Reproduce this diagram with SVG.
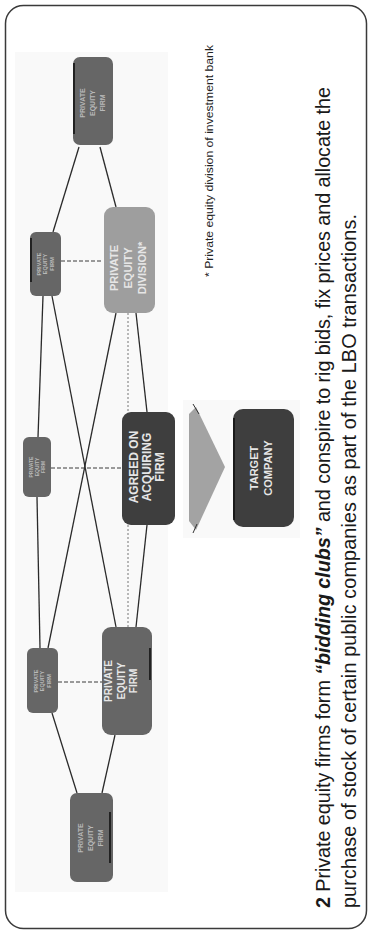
<svg xmlns="http://www.w3.org/2000/svg" width="369" height="932" viewBox="0 0 369 932">
<style>
.frame{fill:#fff;stroke:#3a3a3a;stroke-width:1.5}
.panel{fill:#f9f9f9}
.ln{stroke:#2a2a2a;stroke-width:1.3;fill:none}
.dash{stroke:#3a3a3a;stroke-width:1;stroke-dasharray:4 2;fill:none}
.dot{stroke:#777;stroke-width:1;stroke-dasharray:2 2;fill:none}
.n1{fill:#666}
.n2{fill:#9e9e9e}
.n3{fill:#3e3e3e}
.edge{stroke:#111;stroke-width:1.6}
.t{font-family:"Liberation Sans",Arial,sans-serif;font-weight:bold;text-anchor:middle;fill:#e6e6e6}
.tf{font-family:"Liberation Sans",Arial,sans-serif;font-weight:bold;text-anchor:middle;fill:#b9b9b9}
.cap{font-family:"Liberation Sans",Arial,sans-serif;font-size:19.8px;fill:#1a1a1a}
.note{font-family:"Liberation Sans",Arial,sans-serif;font-size:10.5px;fill:#222}
</style>
<rect class="frame" x="5.5" y="5.5" width="361" height="923" rx="18"/>
<rect class="panel" x="15" y="52" width="153" height="840"/>
<rect class="panel" x="183" y="400" width="117" height="138"/>

<g id="connectors">
<line class="ln" x1="79" y1="147" x2="53" y2="232"/>
<line class="ln" x1="100" y1="147" x2="116" y2="207"/>
<line class="dash" x1="61" y1="261" x2="103" y2="261"/>
<line class="ln" x1="43" y1="296" x2="38" y2="437"/>
<line class="ln" x1="52" y1="296" x2="116" y2="627"/>
<line class="ln" x1="116" y1="313" x2="48" y2="648"/>
<line class="dot" x1="128" y1="313" x2="128" y2="627"/>
<line class="ln" x1="136" y1="313" x2="147" y2="412"/>
<line class="ln" x1="147" y1="525" x2="136" y2="627"/>
<line class="dash" x1="51" y1="468" x2="122" y2="468"/>
<line class="ln" x1="37" y1="497" x2="40" y2="648"/>
<line class="dash" x1="58" y1="682" x2="102" y2="682"/>
<line class="ln" x1="52" y1="713" x2="77" y2="793"/>
<line class="ln" x1="115" y1="735" x2="102" y2="793"/>
</g>

<g id="pe-firm-top">
<rect class="n1" x="73" y="57" width="40" height="88" rx="7"/>
<line class="edge" x1="74" y1="63" x2="74" y2="134"/>
<text class="tf" font-size="7" transform="translate(92,103) rotate(-90)"><tspan x="0" y="-7.5">PRIVATE</tspan><tspan x="0" y="2.5">EQUITY</tspan><tspan x="0" y="12.5">FIRM</tspan></text>
</g>

<g id="pe-small-top">
<rect class="n1" x="30" y="232" width="31" height="64" rx="6"/>
<line class="edge" x1="31" y1="238" x2="31" y2="282"/>
<text class="tf" font-size="5.5" transform="translate(45,264) rotate(-90)"><tspan x="0" y="-4.5">PRIVATE</tspan><tspan x="0" y="2">EQUITY</tspan><tspan x="0" y="8.5">FIRM</tspan></text>
</g>

<g id="pe-division">
<rect class="n2" x="104" y="207" width="51" height="106" rx="9"/>
<text class="t" font-size="11" fill="#fafafa" transform="translate(128,268) rotate(-90)"><tspan x="0" y="-10">PRIVATE</tspan><tspan x="0" y="4">EQUITY</tspan><tspan x="0" y="18">DIVISION*</tspan></text>
</g>

<g id="pe-small-mid">
<rect class="n1" x="23" y="437" width="28" height="60" rx="6"/>
<text class="tf" font-size="5" transform="translate(37,467) rotate(-90)"><tspan x="0" y="-4">PRIVATE</tspan><tspan x="0" y="2">EQUITY</tspan><tspan x="0" y="8">FIRM</tspan></text>
</g>

<g id="agreed-firm">
<rect class="n3" x="122" y="412" width="53" height="113" rx="9"/>
<text class="t" font-size="12" transform="translate(146,467) rotate(-90)"><tspan x="0" y="-8">AGREED ON</tspan><tspan x="0" y="5">ACQUIRING</tspan><tspan x="0" y="18">FIRM</tspan></text>
</g>

<g id="arrow">
<polygon points="189,414 196,407 225,467 196,530 189,521" fill="#a3a3a3"/>
<line x1="193" y1="404" x2="199" y2="414" stroke="#333" stroke-width="1"/>
<line x1="193" y1="533" x2="197" y2="524" stroke="#333" stroke-width="1"/>
</g>

<g id="target-company">
<rect class="n3" x="233" y="409" width="61" height="118" rx="10"/>
<line class="edge" x1="234" y1="418" x2="234" y2="520"/>
<text class="t" font-size="11" transform="translate(261,468) rotate(-90)"><tspan x="0" y="-3">TARGET</tspan><tspan x="0" y="10.5">COMPANY</tspan></text>
</g>

<g id="pe-small-bottom">
<rect class="n1" x="27" y="648" width="31" height="65" rx="6"/>
<text class="tf" font-size="5.5" transform="translate(42,681) rotate(-90)"><tspan x="0" y="-4.5">PRIVATE</tspan><tspan x="0" y="2">EQUITY</tspan><tspan x="0" y="8.5">FIRM</tspan></text>
</g>

<g id="pe-firm">
<rect class="n1" x="102" y="627" width="50" height="108" rx="9" fill="#5f5f5f"/>
<line class="edge" x1="150" y1="648" x2="150" y2="680"/>
<text class="t" font-size="10" transform="translate(121,681) rotate(-90)"><tspan x="0" y="-9">PRIVATE</tspan><tspan x="0" y="3.5">EQUITY</tspan><tspan x="0" y="16">FIRM</tspan></text>
</g>

<g id="pe-firm-bottom">
<rect class="n1" x="70" y="793" width="43" height="89" rx="7"/>
<line class="edge" x1="110" y1="812" x2="110" y2="863"/>
<text class="tf" font-size="7" transform="translate(90,838) rotate(-90)"><tspan x="0" y="-7.5">PRIVATE</tspan><tspan x="0" y="2.5">EQUITY</tspan><tspan x="0" y="12.5">FIRM</tspan></text>
</g>

<text class="note" transform="translate(213,277) rotate(-90)" textLength="232" lengthAdjust="spacingAndGlyphs">* Private equity division of investment bank</text>

<text class="cap" transform="translate(330,908) rotate(-90)" textLength="821" lengthAdjust="spacing"><tspan font-weight="bold">2</tspan> Private equity firms form <tspan font-weight="bold" font-style="italic">“bidding clubs”</tspan> and conspire to rig bids, fix prices and allocate the</text>
<text class="cap" transform="translate(356,908) rotate(-90)" textLength="694" lengthAdjust="spacing">purchase of stock of certain public companies as part of the LBO transactions.</text>
</svg>
